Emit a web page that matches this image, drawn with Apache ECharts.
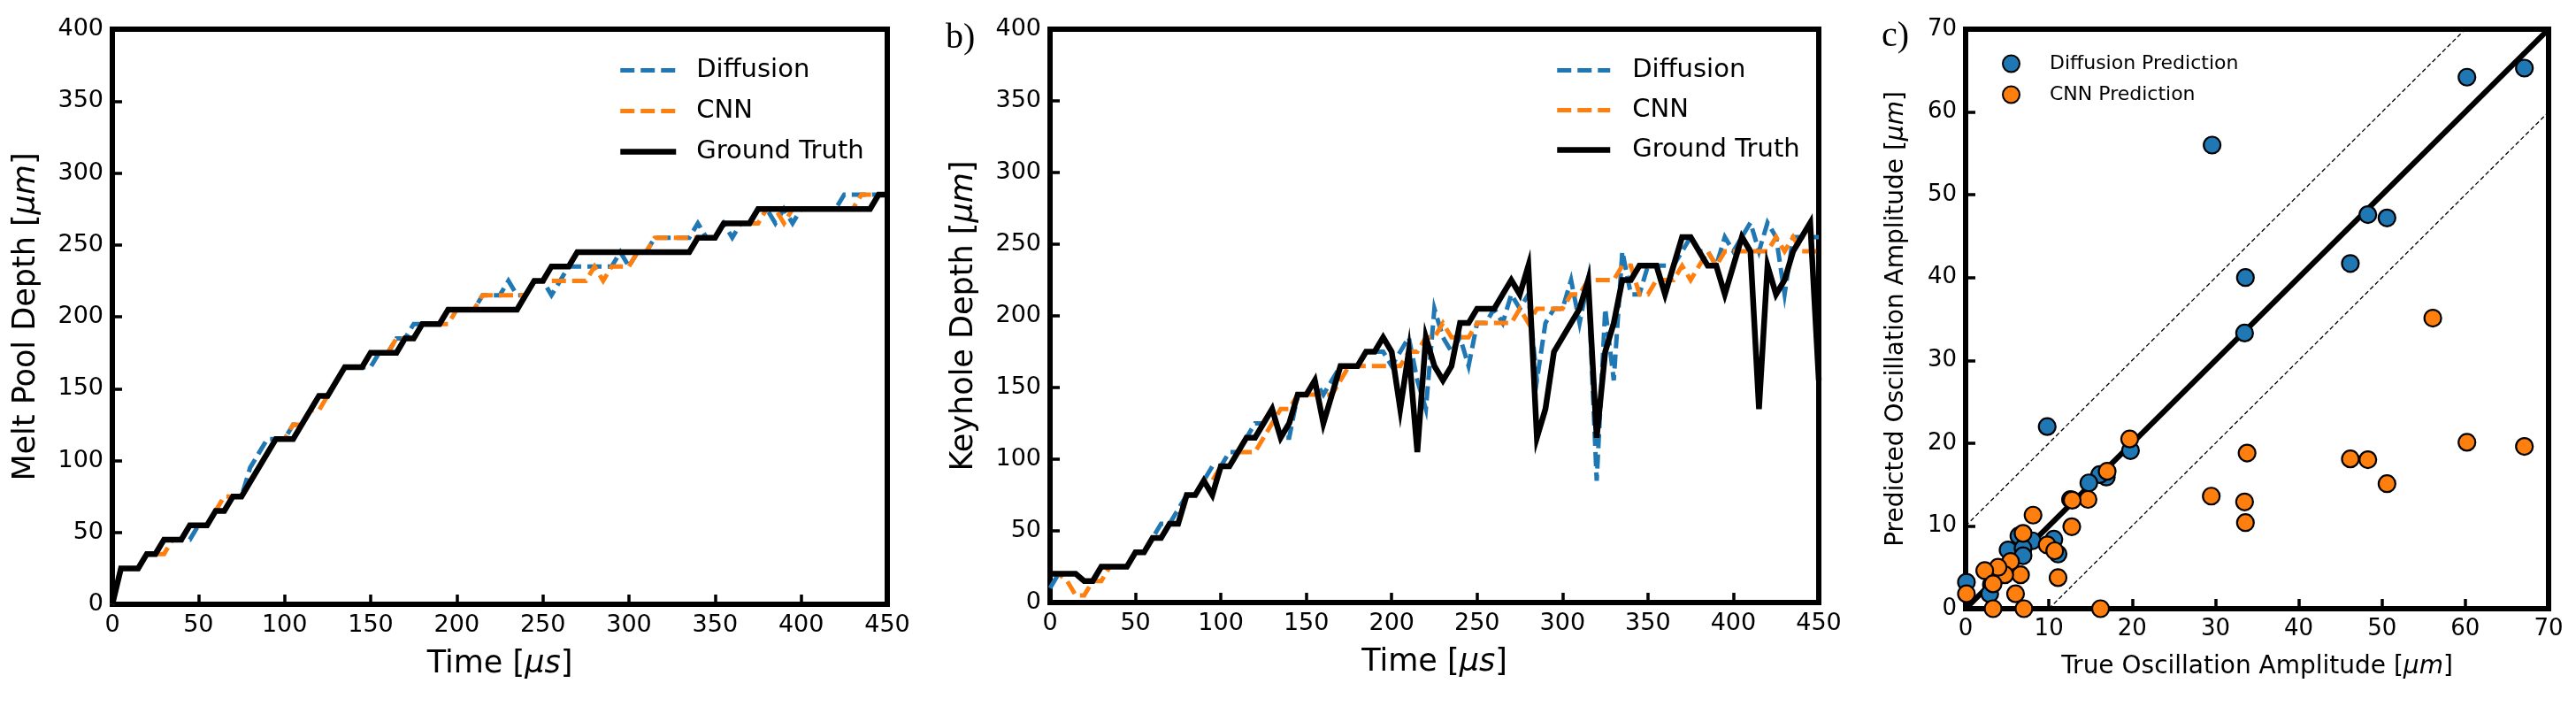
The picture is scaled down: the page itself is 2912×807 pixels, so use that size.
<!DOCTYPE html>
<html>
<head>
<meta charset="utf-8">
<script src="https://cdn.jsdelivr.net/npm/echarts@6.0.0/dist/echarts.min.js"></script>
<style>
  html, body { margin: 0; padding: 0; background: #fff; }
  #chart { width: 2912px; height: 807px; }
</style>
</head>
<body>
<div id="chart"></div>
<script>
// sample times, µs
const timeUs = [
  0, 5, 10, 15, 20, 25, 30, 35, 40, 45,
  50, 55, 60, 65, 70, 75, 80, 85, 90, 95,
  100, 105, 110, 115, 120, 125, 130, 135, 140, 145,
  150, 155, 160, 165, 170, 175, 180, 185, 190, 195,
  200, 205, 210, 215, 220, 225, 230, 235, 240, 245,
  250, 255, 260, 265, 270, 275, 280, 285, 290, 295,
  300, 305, 310, 315, 320, 325, 330, 335, 340, 345,
  350, 355, 360, 365, 370, 375, 380, 385, 390, 395,
  400, 405, 410, 415, 420, 425, 430, 435, 440, 445,
  450
];

// a) melt pool depth, µm
const meltTruth = [
  0, 25, 25, 25, 35, 35, 45, 45, 45, 55,
  55, 55, 65, 65, 75, 75, 85, 95, 105, 115,
  115, 115, 125, 135, 145, 145, 155, 165, 165, 165,
  175, 175, 175, 175, 185, 185, 195, 195, 195, 205,
  205, 205, 205, 205, 205, 205, 205, 205, 215, 225,
  225, 235, 235, 235, 245, 245, 245, 245, 245, 245,
  245, 245, 245, 245, 245, 245, 245, 245, 255, 255,
  255, 265, 265, 265, 265, 275, 275, 275, 275, 275,
  275, 275, 275, 275, 275, 275, 275, 275, 275, 285,
  285
];
const meltDiffusion = [
  0, 25, 25, 25, 35, 35, 45, 45, 45, 45,
  55, 55, 65, 65, 75, 75, 95, 105, 115, 115,
  115, 125, 125, 135, 145, 145, 155, 165, 165, 165,
  165, 175, 175, 185, 185, 195, 195, 195, 195, 205,
  205, 205, 205, 215, 215, 215, 225, 215, 215, 225,
  225, 215, 225, 235, 235, 235, 235, 235, 235, 245,
  235, 245, 245, 255, 255, 255, 255, 255, 265, 255,
  255, 265, 255, 265, 265, 275, 275, 265, 275, 265,
  275, 275, 275, 275, 275, 285, 285, 285, 285, 285,
  285
];
const meltCnn = [
  0, 25, 25, 25, 35, 35, 35, 45, 45, 55,
  55, 55, 65, 75, 75, 75, 85, 95, 105, 115,
  115, 125, 125, 135, 135, 145, 155, 165, 165, 165,
  175, 175, 175, 185, 185, 185, 195, 195, 195, 195,
  205, 205, 205, 215, 215, 215, 215, 215, 215, 225,
  225, 225, 225, 225, 225, 225, 235, 225, 235, 235,
  235, 245, 245, 255, 255, 255, 255, 255, 255, 255,
  255, 265, 265, 265, 265, 265, 275, 275, 265, 275,
  275, 275, 275, 275, 275, 275, 275, 285, 285, 285,
  285
];

// b) keyhole depth, µm
const keyholeTruth = [
  20, 20, 20, 20, 15, 15, 25, 25, 25, 25,
  35, 35, 45, 45, 55, 55, 75, 75, 85, 75,
  95, 95, 105, 115, 115, 125, 135, 115, 125, 145,
  145, 155, 125, 145, 165, 165, 165, 175, 175, 185,
  175, 135, 175, 105, 185, 165, 155, 165, 195, 195,
  205, 205, 205, 215, 225, 215, 235, 115, 135, 175,
  185, 195, 205, 225, 115, 175, 195, 225, 225, 235,
  235, 235, 215, 235, 255, 255, 245, 235, 235, 215,
  235, 255, 245, 135, 235, 215, 225, 245, 255, 265,
  155
];
const keyholeDiffusion = [
  10, 20, 20, 20, 15, 15, 25, 25, 25, 25,
  35, 35, 45, 55, 55, 65, 75, 75, 85, 95,
  95, 105, 105, 115, 125, 125, 135, 115, 115, 145,
  145, 155, 145, 155, 165, 165, 165, 175, 175, 175,
  165, 175, 185, 155, 135, 205, 185, 175, 185, 165,
  195, 195, 205, 195, 215, 205, 215, 155, 195, 205,
  205, 225, 195, 225, 85, 205, 155, 245, 215, 215,
  235, 235, 235, 235, 245, 255, 245, 245, 235, 255,
  245, 255, 265, 245, 265, 255, 215, 255, 255, 255,
  255
];
const keyholeCnn = [
  20, 20, 15, 5, 5, 15, 15, 25, 25, 25,
  35, 35, 45, 45, 55, 55, 75, 75, 85, 85,
  95, 95, 105, 105, 105, 115, 125, 135, 135, 145,
  145, 145, 145, 145, 155, 165, 165, 165, 165, 165,
  165, 165, 175, 175, 185, 185, 195, 185, 185, 185,
  195, 195, 195, 195, 195, 205, 195, 205, 205, 205,
  205, 215, 215, 225, 225, 225, 225, 235, 235, 215,
  215, 225, 225, 225, 235, 225, 235, 245, 235, 245,
  245, 245, 245, 245, 245, 255, 245, 255, 245, 245,
  245
];

// c) oscillation amplitude, [true, predicted] in µm
const diffusionPoints = [
  [29.6, 56.0], [60.2, 64.2], [67.1, 65.3], [48.3, 47.6], [50.6, 47.2],
  [46.2, 41.7], [33.6, 40.0], [33.5, 33.3], [9.8, 22.0], [19.8, 19.1],
  [16.9, 15.9], [16.1, 16.2], [14.8, 15.2], [12.6, 13.2], [6.4, 8.8],
  [8.0, 8.2], [10.6, 8.4], [11.1, 6.6], [5.1, 7.1], [6.9, 7.3],
  [6.9, 6.4], [3.1, 2.9], [2.9, 1.8], [0.1, 3.2], [4.0, 4.0]
];
const cnnPoints = [
  [56.1, 35.1], [19.7, 20.5], [33.8, 18.8], [29.5, 13.6], [33.5, 12.9],
  [33.6, 10.4], [46.2, 18.1], [48.3, 18.0], [50.6, 15.1], [60.2, 20.1],
  [67.1, 19.6], [16.2, 0.0], [17.0, 16.6], [14.7, 13.2], [12.8, 13.1],
  [8.1, 11.3], [12.75, 9.9], [6.9, 9.1], [9.8, 7.7], [10.7, 7.0],
  [6.6, 4.1], [5.4, 5.7], [4.7, 4.1], [3.9, 5.0], [2.3, 4.6],
  [3.3, 3.0], [6.0, 1.8], [0.1, 1.8], [11.1, 3.75], [3.3, 0.0], [7.0, 0.0]
];
const identityLine = [[0, 0], [70, 70]];
const upperBand = [[0, 10], [60, 70]];
const lowerBand = [[10, 0], [70, 60]];

const FONT = 'DejaVu Sans';
const BLUE = '#1f77b4';
const ORANGE = '#ff7f0e';
const DASH = [16, 7];

function pairs(xs, ys) {
  return xs.map((x, i) => [x, ys[i]]);
}

function axis(idx, max, interval, name, gap, size, nameSize, isY) {
  return {
    type: 'value',
    gridIndex: idx,
    min: 0,
    max: max,
    interval: interval,
    name: name,
    nameLocation: 'middle',
    nameGap: gap,
    nameRotate: isY ? 90 : 0,
    nameTextStyle: {
      color: '#000', fontFamily: FONT, fontSize: nameSize,
      rich: { i: { fontStyle: 'italic', fontFamily: FONT, fontSize: nameSize, color: '#000' } }
    },
    axisLine: { show: true, onZero: false, lineStyle: { color: '#000', width: 6 } },
    axisTick: { show: true, inside: true, length: 11, lineStyle: { color: '#000', width: 3.5 } },
    axisLabel: { color: '#000', fontFamily: FONT, fontSize: size, margin: 10, showMinLabel: true, showMaxLabel: true },
    splitLine: { show: false }
  };
}

function lineSeries(name, idx, data, color, width, dashed, z) {
  return {
    name: name,
    type: 'line',
    xAxisIndex: idx,
    yAxisIndex: idx,
    data: data,
    symbol: 'none',
    z: z,
    lineStyle: { color: color, width: width, type: dashed ? DASH : 'solid', cap: 'butt', join: 'miter' },
    itemStyle: { color: color }
  };
}

// legend for the line panels: plain line sample, no marker
function lineLegend(left, padLeft, width, gap) {
  return {
    left: left, top: 60, orient: 'vertical', itemWidth: width, itemHeight: 20, itemGap: gap,
    data: [
      { name: 'Diffusion', lineStyle: { width: 5, type: DASH, color: BLUE } },
      { name: 'CNN', lineStyle: { width: 5, type: DASH, color: ORANGE } },
      { name: 'Ground Truth', lineStyle: { width: 6.5, type: 'solid', color: '#000' } }
    ],
    itemStyle: { opacity: 0 },
    textStyle: { fontFamily: FONT, fontSize: 29, color: '#000', padding: [0, 0, 0, padLeft] }
  };
}

const frame = { show: true, borderColor: '#000', borderWidth: 6, backgroundColor: 'transparent' };

const myChart = echarts.init(document.getElementById('chart'), null, { renderer: 'canvas' });
const option = {
  animation: false,
  backgroundColor: '#fff',
  title: [
    { text: 'b)', left: 1064, top: 18, textStyle: { fontFamily: 'Liberation Serif', fontWeight: 'normal', fontSize: 40, color: '#000' } },
    { text: 'c)', left: 2122, top: 16, textStyle: { fontFamily: 'Liberation Serif', fontWeight: 'normal', fontSize: 40, color: '#000' } }
  ],
  grid: [
    Object.assign({ left: 127, top: 33, width: 876, height: 650 }, frame),
    Object.assign({ left: 1187, top: 33, width: 869, height: 648 }, frame),
    Object.assign({ left: 2222, top: 33, width: 659, height: 655 }, frame)
  ],
  xAxis: [
    axis(0, 450, 50, 'Time [{i|μs}]', 50, 27, 35, false),
    axis(1, 450, 50, 'Time [{i|μs}]', 50, 27, 35, false),
    axis(2, 70, 10, 'True Oscillation Amplitude [{i|μm}]', 52, 26, 28, false)
  ],
  yAxis: [
    axis(0, 400, 50, 'Melt Pool Depth [{i|μm}]', 80, 27, 35, true),
    axis(1, 400, 50, 'Keyhole Depth [{i|μm}]', 80, 27, 35, true),
    axis(2, 70, 10, 'Predicted Oscillation Amplitude [{i|μm}]', 64, 26, 28, true)
  ],
  legend: [
    lineLegend(693, 18, 63, 17),
    lineLegend(1752, 20, 60, 16),
    {
      left: 2258, top: 56, orient: 'vertical', itemWidth: 19, itemHeight: 19, itemGap: 13,
      data: ['Diffusion Prediction', 'CNN Prediction'],
      textStyle: { fontFamily: FONT, fontSize: 22, color: '#000', padding: [0, 0, 0, 29] }
    }
  ],
  series: [
    lineSeries('Diffusion', 0, pairs(timeUs, meltDiffusion), BLUE, 5, true, 2),
    lineSeries('CNN', 0, pairs(timeUs, meltCnn), ORANGE, 5, true, 3),
    lineSeries('Ground Truth', 0, pairs(timeUs, meltTruth), '#000', 6.5, false, 4),
    lineSeries('Diffusion', 1, pairs(timeUs, keyholeDiffusion), BLUE, 5, true, 2),
    lineSeries('CNN', 1, pairs(timeUs, keyholeCnn), ORANGE, 5, true, 3),
    lineSeries('Ground Truth', 1, pairs(timeUs, keyholeTruth), '#000', 6.5, false, 4),
    {
      type: 'line', xAxisIndex: 2, yAxisIndex: 2, data: upperBand, symbol: 'none', z: 1,
      lineStyle: { color: '#000', width: 1.3, type: [5, 3] }
    },
    {
      type: 'line', xAxisIndex: 2, yAxisIndex: 2, data: lowerBand, symbol: 'none', z: 1,
      lineStyle: { color: '#000', width: 1.3, type: [5, 3] }
    },
    {
      type: 'line', xAxisIndex: 2, yAxisIndex: 2, data: identityLine, symbol: 'none', z: 2,
      lineStyle: { color: '#000', width: 6 }
    },
    {
      name: 'Diffusion Prediction', type: 'scatter', xAxisIndex: 2, yAxisIndex: 2, z: 3,
      data: diffusionPoints, symbolSize: 19,
      itemStyle: { color: BLUE, borderColor: '#000', borderWidth: 2.2, opacity: 1 }
    },
    {
      name: 'CNN Prediction', type: 'scatter', xAxisIndex: 2, yAxisIndex: 2, z: 4,
      data: cnnPoints, symbolSize: 19,
      itemStyle: { color: ORANGE, borderColor: '#000', borderWidth: 2.2, opacity: 1 }
    }
  ]
};
myChart.setOption(option);
</script>
</body>
</html>
